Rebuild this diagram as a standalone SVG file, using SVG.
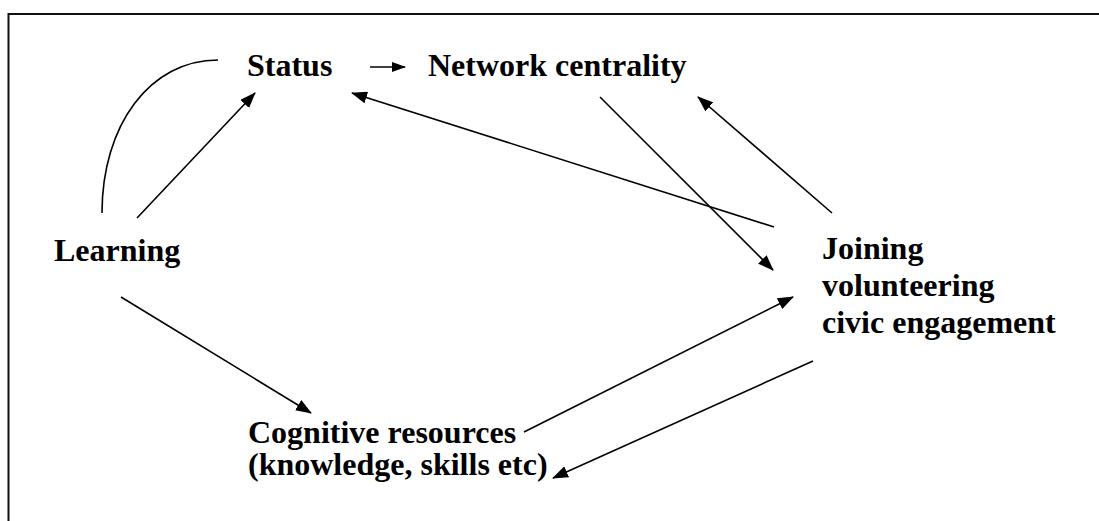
<svg xmlns="http://www.w3.org/2000/svg" width="1099" height="521" viewBox="0 0 1099 521">
<style>
text{font-family:"Liberation Serif","Times New Roman",serif;font-weight:bold;font-size:32px;fill:#000}
.c{fill:none;stroke:#000;stroke-width:1.6}
.a{marker-end:url(#ah)}
</style>
<defs>
<marker id="ah" markerUnits="userSpaceOnUse" markerWidth="16" markerHeight="12" refX="15" refY="6" orient="auto">
<path d="M0,0 L16,6 L0,12 z" fill="#000"/>
</marker>
<marker id="ahs" markerUnits="userSpaceOnUse" markerWidth="14" markerHeight="10" refX="13" refY="5" orient="auto">
<path d="M0,0 L14,5 L0,10 z" fill="#000"/>
</marker>
</defs>
<rect width="1099" height="521" fill="#fff"/>
<path d="M8.5,521 V14 H1099" fill="none" stroke="#111" stroke-width="2"/>
<g id="connectors">
<path class="c" d="M102,213 C102,125 150,60 218,60"/>
<line class="c a" x1="137" y1="218" x2="255" y2="93"/>
<line class="c" x1="370" y1="67" x2="405" y2="67" marker-end="url(#ahs)"/>
<line class="c a" x1="774" y1="227" x2="352" y2="93"/>
<line class="c a" x1="600" y1="97" x2="773" y2="270"/>
<line class="c a" x1="832" y1="213" x2="698" y2="97"/>
<line class="c a" x1="121" y1="297" x2="311" y2="413"/>
<line class="c a" x1="524" y1="432" x2="793" y2="297"/>
<line class="c a" x1="813" y1="361" x2="553" y2="478"/>
</g>
<g id="status"><text x="247" y="76">Status</text></g>
<g id="network"><text x="428" y="76">Network centrality</text></g>
<g id="learning"><text x="54" y="261">Learning</text></g>
<g id="joining">
<text x="822" y="259">Joining</text>
<text x="822" y="296">volunteering</text>
<text x="822" y="333">civic engagement</text>
</g>
<g id="cognitive">
<text x="248" y="443">Cognitive resources</text>
<text x="248" y="475">(knowledge, skills etc)</text>
</g>
</svg>
